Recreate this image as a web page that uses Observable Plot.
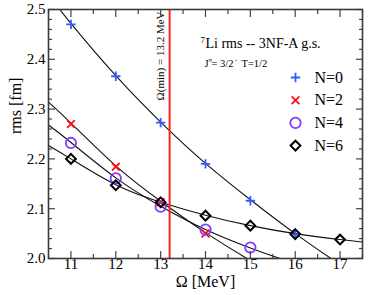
<!DOCTYPE html>
<html><head><meta charset="utf-8">
<script src="https://cdn.jsdelivr.net/npm/d3@7"></script>
<script src="https://cdn.jsdelivr.net/npm/@observablehq/plot@0.6"></script>
<style>html,body{margin:0;padding:0;background:#fff} svg{display:block}</style>
</head><body><div id="chart"></div>
<script>
// Data
const omegaN0 = [11, 12, 13, 14, 15, 16];
const rmsN0   = [2.470, 2.366, 2.273, 2.190, 2.116, 2.048];
const omegaN2 = [11, 12, 13, 14];
const rmsN2   = [2.270, 2.184, 2.113, 2.050];
const omegaN4 = [11, 12, 13, 14, 15];
const rmsN4   = [2.232, 2.161, 2.104, 2.058, 2.022];
const omegaN6 = [11, 12, 13, 14, 15, 16, 17];
const rmsN6   = [2.200, 2.147, 2.113, 2.086, 2.066, 2.049, 2.038];
// Fitted curves
const fitOmega = [10.5, 11, 12, 13, 14, 15, 16, 17, 17.5];
const fitN0 = [2.530, 2.472, 2.367, 2.274, 2.191, 2.118, 2.050, 1.988, 1.960];
const fitN2 = [2.314, 2.272, 2.186, 2.115, 2.052, 1.996, 1.946, 1.900, 1.880];
const fitN4 = [2.268, 2.233, 2.162, 2.105, 2.058, 2.021, 1.990, 1.964, 1.953];
const fitN6 = [2.227, 2.200, 2.148, 2.113, 2.087, 2.066, 2.050, 2.038, 2.033];
const seriesNames = ["N=0", "N=2", "N=4", "N=6"];
const omegaMin = 13.2;
const omegaMinLabel = "Ω(min) = 13.2 MeV";
const xTicks = [11, 12, 13, 14, 15, 16, 17];
const yTicks = [2.0, 2.1, 2.2, 2.3, 2.4, 2.5];
const xTitle = "Ω [MeV]";
const yTitle = "rms [fm]";
const titleSup = "7";
const titleMain = "Li rms -- 3NF-A g.s.";

const font = "'Liberation Serif', 'Times New Roman', serif";
const series = [
  {name: seriesNames[0], x: omegaN0, y: rmsN0, fit: fitN0, symbol: "plus",    color: "#2f5cff", r: 3.1, sw: 1.8},
  {name: seriesNames[1], x: omegaN2, y: rmsN2, fit: fitN2, symbol: "times",   color: "#ff1010", r: 3.6, sw: 1.8},
  {name: seriesNames[2], x: omegaN4, y: rmsN4, fit: fitN4, symbol: "circle",  color: "#7f3cff", r: 5.2, sw: 1.8},
  {name: seriesNames[3], x: omegaN6, y: rmsN6, fit: fitN6, symbol: "diamond2",color: "#000000", r: 4.4, sw: 2}
];

const xMinor = d3.range(10.5, 17.51, 0.5).filter(v => Math.abs(v - Math.round(v)) > 0.01);
const yMinor = d3.range(0, 26).filter(i => i % 5 !== 0).map(i => 2 + i * 0.02);

const ml = 48, mt = 9;
const T = (txt, o) => Plot.text([txt], {fontFamily: font, fill: "#000", ...o});
const marks = [];
// fit lines
for (const s of series) {
  marks.push(Plot.line(fitOmega.map((o, i) => ({o, v: s.fit[i]})), {x: "o", y: "v", curve: "natural", stroke: "#111", strokeWidth: 1.1, clip: true}));
}
// red rule
marks.push(Plot.ruleX([omegaMin], {stroke: "#ff2020", strokeWidth: 2}));
marks.push(Plot.text([omegaMin], {x: d => d, text: () => omegaMinLabel, frameAnchor: "top", rotate: -90, textAnchor: "end", lineAnchor: "bottom", dx: -6, dy: 2, fontSize: 11, fill: "#000", fontFamily: font}));
// points
for (const s of series) {
  marks.push(Plot.dot(s.x.map((o, i) => ({o, v: s.y[i]})), {x: "o", y: "v", symbol: s.symbol, stroke: s.color, fill: "none", r: s.r, strokeWidth: s.sw}));
}
// legend
series.forEach((s, i) => {
  const rowY = 77 + i * 22.7;
  marks.push(Plot.dot([s.name], {frameAnchor: "top-left", dx: 295 - ml, dy: rowY - mt, symbol: s.symbol, stroke: s.color, fill: "none", r: s.r, strokeWidth: s.sw}));
  marks.push(T(s.name, {frameAnchor: "top-left", dx: 314 - ml, dy: rowY - mt, textAnchor: "start", lineAnchor: "middle", fontSize: 16}));
});
// title & subtitle
marks.push(T(titleSup, {frameAnchor: "top-left", dx: 200 - ml, dy: 42 - mt, textAnchor: "start", lineAnchor: "bottom", fontSize: 9}));
marks.push(T(titleMain, {frameAnchor: "top-left", dx: 205 - ml, dy: 47 - mt, textAnchor: "start", lineAnchor: "bottom", fontSize: 14}));
marks.push(T("J", {frameAnchor: "top-left", dx: 204 - ml, dy: 66 - mt, textAnchor: "start", lineAnchor: "bottom", fontSize: 10.5}));
marks.push(T("π", {frameAnchor: "top-left", dx: 208 - ml, dy: 61 - mt, textAnchor: "start", lineAnchor: "bottom", fontSize: 7}));
marks.push(T("= 3/2", {frameAnchor: "top-left", dx: 211 - ml, dy: 66 - mt, textAnchor: "start", lineAnchor: "bottom", fontSize: 10.5}));
marks.push(T("-", {frameAnchor: "top-left", dx: 234.5 - ml, dy: 61 - mt, textAnchor: "start", lineAnchor: "bottom", fontSize: 7}));
marks.push(T("T=1/2", {frameAnchor: "top-left", dx: 241 - ml, dy: 66 - mt, textAnchor: "start", lineAnchor: "bottom", fontSize: 10.5}));
// axis titles
marks.push(T(xTitle, {frameAnchor: "bottom", dy: 28, lineAnchor: "bottom", fontSize: 16}));
marks.push(T(yTitle, {frameAnchor: "left", dx: -28, rotate: -90, lineAnchor: "bottom", fontSize: 16}));
// axes: labels
marks.push(Plot.axisX(xTicks, {anchor: "bottom", tickSize: 0, tickPadding: 0, fontSize: 15, fontFamily: font, fill: "#000", label: null, tickFormat: d => String(d)}));
marks.push(Plot.axisY(yTicks, {anchor: "left", tickSize: 0, tickPadding: 3, fontSize: 15, fontFamily: font, fill: "#000", label: null, tickFormat: d3.format(".1f")}));
// inward ticks on all sides
const tk = {stroke: "#444", strokeWidth: 1.2, label: null, tickFormat: () => ""};
for (const a of ["bottom", "top"]) {
  marks.push(Plot.axisX(xTicks, {...tk, anchor: a, tickSize: -7}));
  marks.push(Plot.axisX(xMinor, {...tk, anchor: a, tickSize: -4}));
}
for (const a of ["left", "right"]) {
  marks.push(Plot.axisY(yTicks, {...tk, anchor: a, tickSize: -7}));
  marks.push(Plot.axisY(yMinor, {...tk, anchor: a, tickSize: -4}));
}
marks.push(Plot.frame({stroke: "#3a3a3a", strokeWidth: 1.6}));

const chart = Plot.plot({
  width: 382, height: 295,
  marginLeft: ml, marginRight: 20, marginTop: mt, marginBottom: 37,
  style: {fontFamily: font, fontSize: "15px", background: "#fff", color: "#000"},
  x: {domain: [10.5, 17.5], label: null},
  y: {domain: [2.0, 2.5], label: null},
  marks
});
document.getElementById("chart").appendChild(chart);
</script>
</body></html>
